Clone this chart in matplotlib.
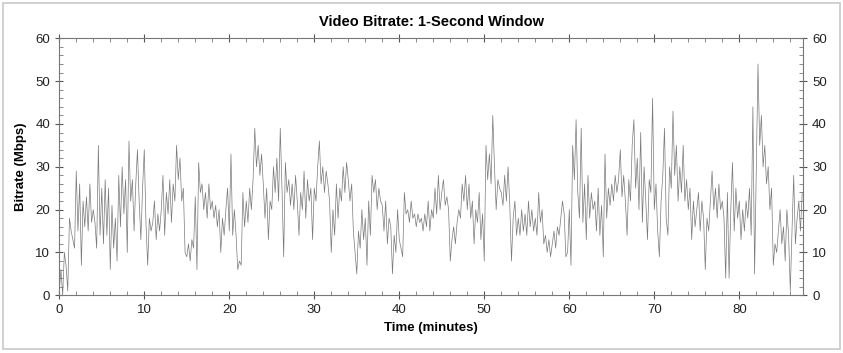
import numpy as np
import matplotlib
matplotlib.use("Agg")
import matplotlib.pyplot as plt
from matplotlib.patches import Rectangle

# bitrate samples (Mbps) at 0.2-minute steps, one row per minute
bitrate = [
    1, 6, 0, 10, 7,
    1, 18, 15, 13, 11,
    29, 15, 26, 7, 22,
    16, 23, 15, 26, 17,
    20, 17, 11, 35, 14,
    25, 12, 27, 14, 25,
    6, 21, 11, 18, 8,
    28, 16, 30, 19, 27,
    10, 36, 22, 27, 15,
    26, 34, 22, 13, 25,
    34, 17, 7, 18, 15,
    17, 22, 13, 19, 15,
    20, 28, 14, 24, 19,
    27, 17, 26, 22, 35,
    27, 32, 22, 25, 10,
    9, 12, 8, 13, 11,
    23, 6, 31, 24, 26,
    20, 24, 18, 26, 20,
    22, 18, 21, 16, 20,
    10, 18, 14, 20, 25,
    15, 33, 14, 20, 14,
    6, 8, 7, 24, 16,
    22, 17, 25, 20, 27,
    39, 30, 35, 28, 33,
    26, 18, 25, 13, 22,
    20, 30, 24, 32, 22,
    39, 25, 9, 31, 24,
    27, 21, 26, 20, 28,
    22, 14, 24, 20, 29,
    18, 27, 22, 25, 13,
    25, 22, 30, 36, 26,
    30, 24, 29, 26, 22,
    10, 20, 14, 26, 18,
    25, 22, 30, 24, 31,
    27, 22, 26, 15, 10,
    5, 15, 11, 20, 13,
    18, 7, 22, 14, 28,
    24, 27, 20, 25, 22,
    21, 15, 22, 12, 18,
    16, 5, 14, 10, 20,
    13, 11, 9, 24, 19,
    20, 17, 22, 18, 19,
    16, 19, 17, 18, 15,
    19, 16, 22, 15, 20,
    18, 25, 19, 28, 20,
    24, 27, 21, 23, 20,
    8, 13, 16, 12, 17,
    20, 18, 26, 22, 28,
    20, 26, 18, 22, 12,
    20, 17, 24, 13, 19,
    8, 35, 27, 33, 26,
    42, 30, 20, 27, 25,
    24, 21, 28, 22, 30,
    21, 8, 18, 22, 14,
    18, 14, 20, 15, 19,
    14, 22, 16, 20, 15,
    18, 14, 24, 17, 20,
    12, 14, 10, 13, 9,
    12, 15, 11, 16, 14,
    18, 22, 19, 9, 10,
    20, 7, 35, 27, 41,
    24, 18, 39, 17, 26,
    13, 28, 18, 24, 20,
    22, 15, 25, 14, 21,
    9, 33, 18, 25, 21,
    26, 22, 28, 24, 27,
    34, 23, 28, 22, 14,
    27, 22, 35, 41, 25,
    32, 20, 38, 17, 30,
    22, 13, 27, 24, 46,
    20, 26, 15, 9, 22,
    28, 39, 18, 14, 30,
    25, 43, 28, 35, 22,
    30, 24, 35, 22, 27,
    20, 25, 13, 22, 16,
    20, 24, 15, 22, 18,
    6, 18, 15, 22, 29,
    20, 25, 18, 26, 20,
    22, 18, 4, 24, 4,
    20, 31, 15, 25, 18,
    22, 13, 20, 15, 22,
    18, 25, 14, 44, 5,
    30, 54, 35, 42, 30,
    35, 26, 30, 20, 25,
    7, 12, 10, 15, 20,
    12, 16, 8, 20, 14,
    1, 15, 28, 12, 18,
    22, 15, 24,
]
step_minutes = 0.2
x_ticks = [0, 10, 20, 30, 40, 50, 60, 70, 80]
y_ticks = [0, 10, 20, 30, 40, 50, 60]

minutes = np.arange(len(bitrate)) * step_minutes

plt.rcParams['font.family'] = ['Liberation Sans', 'DejaVu Sans']

fig = plt.figure(figsize=(8.43, 3.53), dpi=100)
ax = fig.add_axes([0.0703, 0.1635, 0.8823, 0.728])

ax.plot(minutes, bitrate, color='#7a7a7a', linewidth=0.5)

ax.set_xlim(0, 87.5)
ax.set_ylim(0, 60)
ax.set_xticks(x_ticks)
ax.set_yticks(y_ticks)
ax.set_xticks(np.arange(0, 88, 2), minor=True)
ax.set_yticks(np.arange(0, 61, 2), minor=True)

ax.tick_params(which='major', direction='inout', length=6, width=0.8, color='#555555',
               top=True, right=True, labelright=True, labelsize=9.5, labelcolor='#222222')
ax.tick_params(which='minor', direction='in', length=3, width=0.6, color='#777777',
               top=True, right=True)
for s in ax.spines.values():
    s.set_color('#777777')
    s.set_linewidth(0.8)

ax.set_title('Video Bitrate: 1-Second Window', fontsize=10.5, fontweight='bold', pad=9)
ax.set_xlabel('Time (minutes)', fontsize=9.5, fontweight='bold', labelpad=4)
ax.set_ylabel('Bitrate (Mbps)', fontsize=9.5, fontweight='bold', labelpad=6)

# light frame round the whole picture
fig.patches.append(Rectangle((0.004, 0.011), 0.992, 0.98, transform=fig.transFigure,
                             fill=False, edgecolor='#c8c8c8', linewidth=1.2))

fig.savefig('out.png', dpi=100)
